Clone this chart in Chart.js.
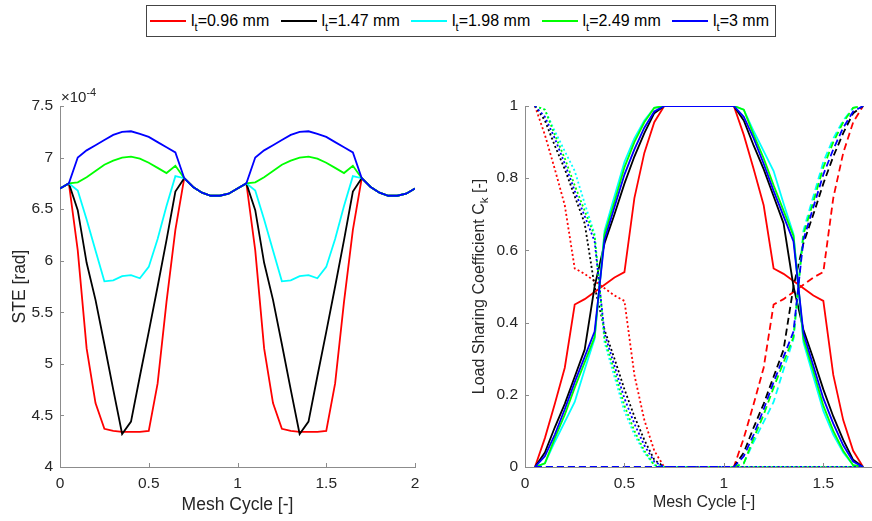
<!DOCTYPE html>
<html>
<head>
<meta charset="utf-8">
<title>STE and load sharing</title>
<script src="https://cdn.jsdelivr.net/npm/chart.js@4.4.1/dist/chart.umd.min.js"></script>
<style>
    html, body {
        margin: 0;
        width: 872px;
        height: 521px;
        overflow: hidden;
        background: #fff;
        font-family: "Liberation Sans", Arial, sans-serif;
    }
    .legend {
        position: absolute;
        left: 146px;
        top: 5px;
        width: 630px;
        height: 32px;
        box-sizing: border-box;
        border: 1px solid #444;
        padding: 0 6px 0 3px;
        display: flex;
        align-items: center;
        justify-content: space-between;
        font-size: 16px;
        color: #000;
    }
    .legend-item { display: flex; align-items: center; white-space: nowrap; }
    .legend-item .swatch { width: 36px; height: 2px; margin-right: 5px; }
    .legend-item sub { font-size: 11px; vertical-align: -5px; line-height: 0; }
    #steChart { position: absolute; left: 0; top: 50px; }
    #ckChart { position: absolute; left: 440px; top: 50px; }
</style>
</head>
<body>

<div class="legend" id="legend"></div>
<canvas id="steChart" width="430" height="471"></canvas>
<canvas id="ckChart" width="453" height="471"></canvas>

<script>
// tooth lengths and their colours
const toothLengths = ['0.96', '1.47', '1.98', '2.49', '3'];
const toothColors = ['#ff0000', '#000000', '#00ffff', '#00ff00', '#0000ff'];

// ---- STE (x 10^-4 rad) over two mesh cycles ----
const steX = [0, 0.05, 0.1, 0.15, 0.2, 0.25, 0.3, 0.35, 0.4, 0.45, 0.5, 0.55, 0.6, 0.65, 0.7, 0.75, 0.8, 0.85, 0.9, 0.95, 1,
    1.05, 1.1, 1.15, 1.2, 1.25, 1.3, 1.35, 1.4, 1.45, 1.5, 1.55, 1.6, 1.65, 1.7, 1.75, 1.8, 1.85, 1.9, 1.95, 2];

const steRed = [6.70, 6.75, 6.10, 5.15, 4.62, 4.37, 4.35, 4.34, 4.34, 4.34, 4.35, 4.81, 5.60, 6.30, 6.80, 6.715, 6.66, 6.63, 6.63, 6.65, 6.70,
    6.75, 6.10, 5.15, 4.62, 4.37, 4.35, 4.34, 4.34, 4.34, 4.35, 4.81, 5.60, 6.30, 6.80, 6.715, 6.66, 6.63, 6.63, 6.65, 6.70];
const steBlack = [6.70, 6.75, 6.49, 5.98, 5.62, 5.19, 4.75, 4.32, 4.44, 4.88, 5.31, 5.75, 6.20, 6.67, 6.80, 6.715, 6.66, 6.63, 6.63, 6.65, 6.70,
    6.75, 6.49, 5.98, 5.62, 5.19, 4.75, 4.32, 4.44, 4.88, 5.31, 5.75, 6.20, 6.67, 6.80, 6.715, 6.66, 6.63, 6.63, 6.65, 6.70];
const steCyan = [6.70, 6.75, 6.68, 6.40, 6.10, 5.80, 5.81, 5.85, 5.86, 5.83, 5.94, 6.21, 6.53, 6.82, 6.80, 6.715, 6.66, 6.63, 6.63, 6.65, 6.70,
    6.75, 6.68, 6.40, 6.10, 5.80, 5.81, 5.85, 5.86, 5.83, 5.94, 6.21, 6.53, 6.82, 6.80, 6.715, 6.66, 6.63, 6.63, 6.65, 6.70];
const steGreen = [6.70, 6.75, 6.76, 6.81, 6.87, 6.93, 6.97, 7.00, 7.01, 6.99, 6.95, 6.90, 6.85, 6.92, 6.80, 6.715, 6.66, 6.63, 6.63, 6.65, 6.70,
    6.75, 6.76, 6.81, 6.87, 6.93, 6.97, 7.00, 7.01, 6.99, 6.95, 6.90, 6.85, 6.92, 6.80, 6.715, 6.66, 6.63, 6.63, 6.65, 6.70];
const steBlue = [6.70, 6.75, 7.00, 7.07, 7.12, 7.17, 7.22, 7.25, 7.255, 7.23, 7.20, 7.15, 7.10, 7.05, 6.80, 6.715, 6.66, 6.63, 6.63, 6.65, 6.70,
    6.75, 7.00, 7.07, 7.12, 7.17, 7.22, 7.25, 7.255, 7.23, 7.20, 7.15, 7.10, 7.05, 6.80, 6.715, 6.66, 6.63, 6.63, 6.65, 6.70];

const steTicksX = [0, 0.5, 1, 1.5, 2];
const steTicksY = [4, 4.5, 5, 5.5, 6, 6.5, 7, 7.5];

// ---- load sharing coefficient: current pair (solid), previous (dotted), next (dashed) ----
const ckX = [0.05, 0.1, 0.15, 0.2, 0.25, 0.3, 0.35, 0.4, 0.45, 0.5, 0.55, 0.6, 0.65, 0.7, 0.75, 0.8, 0.85,
    0.9, 0.95, 1, 1.05, 1.1, 1.15, 1.2, 1.25, 1.3, 1.35, 1.4, 1.45, 1.5, 1.55, 1.6, 1.65, 1.7];

const ckRed = [0, 0.08, 0.175, 0.275, 0.45, 0.465, 0.485, 0.505, 0.525, 0.54, 0.745, 0.87, 0.955, 1, 1, 1, 1,
    1, 1, 1, 1, 0.92, 0.825, 0.725, 0.55, 0.535, 0.515, 0.495, 0.475, 0.46, 0.255, 0.13, 0.045, 0];
const ckRedPrev = [1, 0.92, 0.825, 0.725, 0.55, 0.535, 0.515, 0.495, 0.475, 0.46, 0.255, 0.13, 0.045, 0, 0, 0, 0,
    0, 0, 0, 0, 0, 0, 0, 0, 0, 0, 0, 0, 0, 0, 0, 0, 0];
const ckRedNext = [0, 0, 0, 0, 0, 0, 0, 0, 0, 0, 0, 0, 0, 0, 0, 0, 0,
    0, 0, 0, 0, 0.08, 0.175, 0.275, 0.45, 0.465, 0.485, 0.505, 0.525, 0.54, 0.745, 0.87, 0.955, 1];

const ckBlack = [0, 0.04, 0.11, 0.175, 0.25, 0.325, 0.50, 0.62, 0.70, 0.785, 0.86, 0.925, 0.98, 1, 1, 1, 1,
    1, 1, 1, 1, 0.96, 0.89, 0.825, 0.75, 0.675, 0.50, 0.38, 0.30, 0.215, 0.14, 0.075, 0.02, 0];
const ckBlackPrev = [1, 0.96, 0.89, 0.825, 0.75, 0.675, 0.50, 0.38, 0.30, 0.215, 0.14, 0.075, 0.02, 0, 0, 0, 0,
    0, 0, 0, 0, 0, 0, 0, 0, 0, 0, 0, 0, 0, 0, 0, 0, 0];
const ckBlackNext = [0, 0, 0, 0, 0, 0, 0, 0, 0, 0, 0, 0, 0, 0, 0, 0, 0,
    0, 0, 0, 0, 0.04, 0.11, 0.175, 0.25, 0.325, 0.50, 0.62, 0.70, 0.785, 0.86, 0.925, 0.98, 1];

const ckCyan = [0, 0.01, 0.07, 0.125, 0.18, 0.27, 0.355, 0.655, 0.75, 0.845, 0.91, 0.96, 0.995, 1, 1, 1, 1,
    1, 1, 1, 1, 0.99, 0.93, 0.875, 0.82, 0.73, 0.645, 0.345, 0.25, 0.155, 0.09, 0.04, 0.005, 0];
const ckCyanPrev = [1, 0.99, 0.93, 0.875, 0.82, 0.73, 0.645, 0.345, 0.25, 0.155, 0.09, 0.04, 0.005, 0, 0, 0, 0,
    0, 0, 0, 0, 0, 0, 0, 0, 0, 0, 0, 0, 0, 0, 0, 0, 0];
const ckCyanNext = [0, 0, 0, 0, 0, 0, 0, 0, 0, 0, 0, 0, 0, 0, 0, 0, 0,
    0, 0, 0, 0, 0.01, 0.07, 0.125, 0.18, 0.27, 0.355, 0.655, 0.75, 0.845, 0.91, 0.96, 0.995, 1];

const ckGreen = [0, 0.01, 0.08, 0.145, 0.22, 0.29, 0.36, 0.645, 0.735, 0.83, 0.90, 0.955, 0.995, 1, 1, 1, 1,
    1, 1, 1, 1, 0.99, 0.92, 0.855, 0.78, 0.71, 0.64, 0.355, 0.265, 0.17, 0.10, 0.045, 0.005, 0];
const ckGreenPrev = [1, 0.99, 0.92, 0.855, 0.78, 0.71, 0.64, 0.355, 0.265, 0.17, 0.10, 0.045, 0.005, 0, 0, 0, 0,
    0, 0, 0, 0, 0, 0, 0, 0, 0, 0, 0, 0, 0, 0, 0, 0, 0];
const ckGreenNext = [0, 0, 0, 0, 0, 0, 0, 0, 0, 0, 0, 0, 0, 0, 0, 0, 0,
    0, 0, 0, 0, 0.01, 0.08, 0.145, 0.22, 0.29, 0.36, 0.645, 0.735, 0.83, 0.90, 0.955, 0.995, 1];

const ckBlue = [0, 0.03, 0.09, 0.16, 0.235, 0.305, 0.375, 0.63, 0.72, 0.81, 0.88, 0.94, 0.985, 1, 1, 1, 1,
    1, 1, 1, 1, 0.97, 0.91, 0.84, 0.765, 0.695, 0.625, 0.37, 0.28, 0.19, 0.12, 0.06, 0.015, 0];
const ckBluePrev = [1, 0.97, 0.91, 0.84, 0.765, 0.695, 0.625, 0.37, 0.28, 0.19, 0.12, 0.06, 0.015, 0, 0, 0, 0,
    0, 0, 0, 0, 0, 0, 0, 0, 0, 0, 0, 0, 0, 0, 0, 0, 0];
const ckBlueNext = [0, 0, 0, 0, 0, 0, 0, 0, 0, 0, 0, 0, 0, 0, 0, 0, 0,
    0, 0, 0, 0, 0.03, 0.09, 0.16, 0.235, 0.305, 0.375, 0.63, 0.72, 0.81, 0.88, 0.94, 0.985, 1];

const ckTicksX = [0, 0.5, 1, 1.5];
const ckTicksY = [0, 0.2, 0.4, 0.6, 0.8, 1];

const chartFont = '"Liberation Sans", Arial, sans-serif';
const textColor = '#262626';
const axisColor = '#8c8c8c';
const dotted = [2, 2.5];
const dashed = [7, 4];

// shared legend above both plots
const legend = document.getElementById('legend');
toothLengths.forEach((lt, k) => {
    const item = document.createElement('div');
    item.className = 'legend-item';
    item.innerHTML = '<span class="swatch" style="background:' + toothColors[k] + '"></span>' +
        '<span>l<sub>t</sub>=' + lt + ' mm</span>';
    legend.appendChild(item);
});

function series(label, xs, ys, color, dash, order) {
    return {
        label: label,
        data: xs.map((x, i) => ({ x: x, y: ys[i] })),
        borderColor: color,
        borderWidth: 1.8,
        borderDash: dash,
        pointRadius: 0,
        fill: false,
        tension: 0,
        order: order
    };
}

// small inward tick marks on both axes
const innerTicks = {
    id: 'innerTicks',
    afterDraw(chart) {
        const ctx = chart.ctx;
        const sx = chart.scales.x, sy = chart.scales.y;
        ctx.save();
        ctx.strokeStyle = axisColor;
        ctx.lineWidth = 1;
        ctx.beginPath();
        sx.ticks.forEach(t => {
            const px = Math.round(sx.getPixelForValue(t.value)) + 0.5;
            ctx.moveTo(px, sy.bottom);
            ctx.lineTo(px, sy.bottom - 4);
        });
        sy.ticks.forEach(t => {
            const py = Math.round(sy.getPixelForValue(t.value)) + 0.5;
            ctx.moveTo(sx.left, py);
            ctx.lineTo(sx.left + 4, py);
        });
        ctx.stroke();
        ctx.restore();
    }
};

// "x10^-4" multiplier above the STE axis
const exponentLabel = {
    id: 'exponentLabel',
    afterDraw(chart) {
        const ctx = chart.ctx;
        const area = chart.chartArea;
        ctx.save();
        ctx.fillStyle = textColor;
        ctx.textBaseline = 'alphabetic';
        ctx.font = '15px ' + chartFont;
        ctx.fillText('\u00d710', area.left + 1, area.top - 4);
        const w = ctx.measureText('\u00d710').width;
        ctx.font = '11px ' + chartFont;
        ctx.fillText('-4', area.left + 1 + w, area.top - 10.5);
        ctx.restore();
    }
};

// y title with subscript k
const ckAxisTitle = {
    id: 'ckAxisTitle',
    afterDraw(chart) {
        const ctx = chart.ctx;
        const area = chart.chartArea;
        const main = 'Load Sharing Coefficient C', sub = 'k', tail = ' [-]';
        ctx.save();
        ctx.translate(40, (area.top + area.bottom) / 2);
        ctx.rotate(-Math.PI / 2);
        ctx.fillStyle = textColor;
        ctx.textBaseline = 'middle';
        ctx.font = '16px ' + chartFont;
        const w1 = ctx.measureText(main).width;
        const w3 = ctx.measureText(tail).width;
        ctx.font = '11.5px ' + chartFont;
        const w2 = ctx.measureText(sub).width;
        const x0 = -(w1 + w2 + w3) / 2;
        ctx.font = '16px ' + chartFont;
        ctx.fillText(main, x0, 0);
        ctx.font = '11.5px ' + chartFont;
        ctx.fillText(sub, x0 + w1, 5);
        ctx.font = '16px ' + chartFont;
        ctx.fillText(tail, x0 + w1 + w2, 0);
        ctx.restore();
    }
};

function axisBase(tickValues) {
    return {
        type: 'linear',
        grid: { display: false, drawTicks: false },
        border: { display: true, color: axisColor, width: 1 },
        ticks: {
            color: textColor,
            font: { size: 15.5, family: chartFont },
            padding: 7,
            autoSkip: false,
            maxRotation: 0,
            callback: value => String(Number(value.toFixed(2)))
        },
        afterBuildTicks(scale) {
            scale.ticks = tickValues.map(v => ({ value: v }));
        }
    };
}

const steSets = [
    series('lt=0.96 mm', steX, steRed, toothColors[0], [], 4),
    series('lt=1.47 mm', steX, steBlack, toothColors[1], [], 3),
    series('lt=1.98 mm', steX, steCyan, toothColors[2], [], 2),
    series('lt=2.49 mm', steX, steGreen, toothColors[3], [], 1),
    series('lt=3 mm', steX, steBlue, toothColors[4], [], 0)
];

const steXAxis = axisBase(steTicksX);
steXAxis.min = 0;
steXAxis.max = 2;
steXAxis.title = { display: true, text: 'Mesh Cycle [-]', color: textColor,
    font: { size: 17.5, family: chartFont }, padding: { top: 0, bottom: 5.5 } };
steXAxis.afterFit = scale => { scale.height = 54; };

const steYAxis = axisBase(steTicksY);
steYAxis.min = 4;
steYAxis.max = 7.5;
steYAxis.title = { display: true, text: 'STE [rad]', color: textColor,
    font: { size: 17.5, family: chartFont }, padding: { top: 9.5, bottom: 0 } };
steYAxis.afterFit = scale => { scale.width = 60; };

new Chart(document.getElementById('steChart'), {
    type: 'line',
    data: { datasets: steSets },
    options: {
        responsive: false,
        animation: false,
        events: [],
        layout: { padding: { top: 56, right: 15, left: 0, bottom: 0 } },
        plugins: { legend: { display: false }, tooltip: { enabled: false } },
        scales: { x: steXAxis, y: steYAxis }
    },
    plugins: [innerTicks, exponentLabel]
});

const ckSolid = [ckRed, ckBlack, ckCyan, ckGreen, ckBlue];
const ckPrev = [ckRedPrev, ckBlackPrev, ckCyanPrev, ckGreenPrev, ckBluePrev];
const ckNext = [ckRedNext, ckBlackNext, ckCyanNext, ckGreenNext, ckBlueNext];

const ckSets = [];
toothLengths.forEach((lt, k) => {
    const base = (4 - k) * 3;
    ckSets.push(series('lt=' + lt + ' mm', ckX, ckSolid[k], toothColors[k], [], base + 2));
    ckSets.push(series('lt=' + lt + ' mm (prev)', ckX, ckPrev[k], toothColors[k], dotted, base + 1));
    ckSets.push(series('lt=' + lt + ' mm (next)', ckX, ckNext[k], toothColors[k], dashed, base));
});

const ckXAxis = axisBase(ckTicksX);
ckXAxis.min = 0;
ckXAxis.max = 1.8;
ckXAxis.title = { display: true, text: 'Mesh Cycle [-]', color: textColor,
    font: { size: 16, family: chartFont }, padding: { top: 0, bottom: 8.4 } };
ckXAxis.afterFit = scale => { scale.height = 54; };

const ckYAxis = axisBase(ckTicksY);
ckYAxis.min = 0;
ckYAxis.max = 1;
ckYAxis.title = { display: false };
ckYAxis.afterFit = scale => { scale.width = 85; };

new Chart(document.getElementById('ckChart'), {
    type: 'line',
    data: { datasets: ckSets },
    options: {
        responsive: false,
        animation: false,
        events: [],
        layout: { padding: { top: 56, right: 10, left: 0, bottom: 0 } },
        plugins: { legend: { display: false }, tooltip: { enabled: false } },
        scales: { x: ckXAxis, y: ckYAxis }
    },
    plugins: [innerTicks, ckAxisTitle]
});
</script>
</body>
</html>
